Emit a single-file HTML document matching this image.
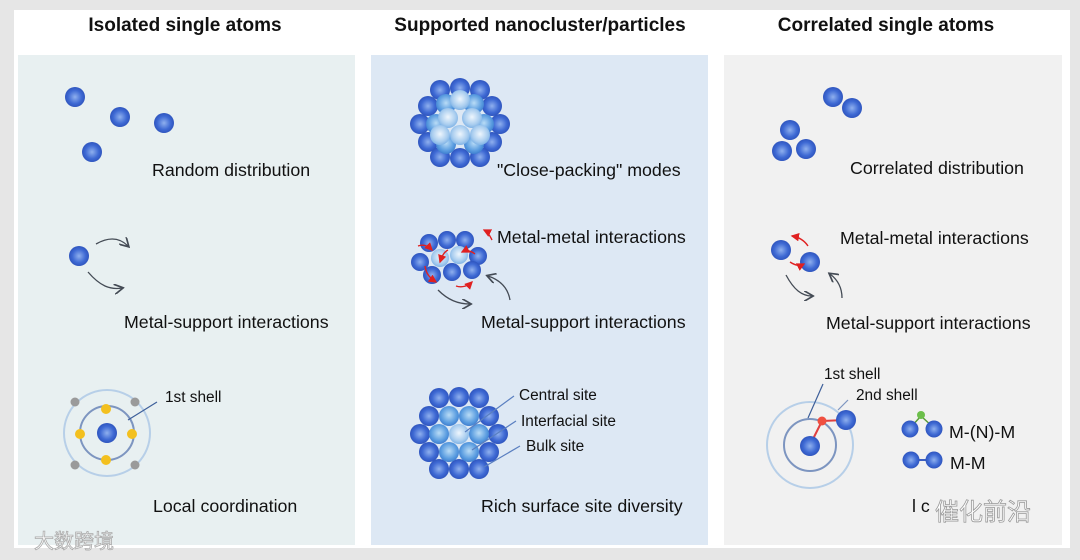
<!DOCTYPE html>
<html><head><meta charset="utf-8"><style>
html,body{margin:0;padding:0;background:#fff}
svg{display:block}
text{font-family:"Liberation Sans",sans-serif;fill:#111}
.t{font-weight:bold;font-size:19px}
.l{font-size:17.8px}
.s{font-size:15.4px}
</style></head><body>
<svg width="1080" height="560" viewBox="0 0 1080 560" xmlns="http://www.w3.org/2000/svg">
<defs>
<radialGradient id="b" cx="50%" cy="50%" r="55%"><stop offset="0" stop-color="#8fb0ee"/><stop offset="0.6" stop-color="#3f6ad4"/><stop offset="1" stop-color="#2a4fb8"/></radialGradient>
<radialGradient id="m" cx="50%" cy="45%" r="55%"><stop offset="0" stop-color="#b9dcf6"/><stop offset="0.7" stop-color="#5b9de0"/><stop offset="1" stop-color="#3f7fd0"/></radialGradient>
<radialGradient id="w" cx="50%" cy="45%" r="55%"><stop offset="0" stop-color="#eef6fd"/><stop offset="0.7" stop-color="#a9cdef"/><stop offset="1" stop-color="#80b3e6"/></radialGradient>
<marker id="ga" markerWidth="8" markerHeight="8" refX="6" refY="4" orient="auto"><path d="M0,0 L7,4 L0,8" fill="none" stroke="#444b55" stroke-width="1.3"/></marker>
<marker id="ra" markerWidth="6" markerHeight="6" refX="5" refY="3" orient="auto"><path d="M0,0 L6,3 L0,6 z" fill="#e02020"/></marker>
</defs>
<rect x="0" y="0" width="1080" height="560" fill="#e6e6e6"/>
<rect x="14" y="10" width="1056" height="538" fill="#fff"/>
<rect x="18" y="55" width="337" height="490" fill="#e8f0f1"/>
<rect x="371" y="55" width="337" height="490" fill="#dde8f4"/>
<rect x="724" y="55" width="338" height="490" fill="#f1f1f1"/>
<text class="t" x="185" y="31" text-anchor="middle">Isolated single atoms</text>
<text class="t" x="540" y="31" text-anchor="middle">Supported nanocluster/particles</text>
<text class="t" x="886" y="31" text-anchor="middle">Correlated single atoms</text>

<!-- left -->
<g fill="url(#b)"><circle cx="75" cy="97" r="10"/><circle cx="120" cy="117" r="10"/><circle cx="164" cy="123" r="10"/><circle cx="92" cy="152" r="10"/></g>
<text class="l" x="152" y="176">Random distribution</text>
<circle cx="79" cy="256" r="10" fill="url(#b)"/>
<path d="M96,244 C110,236 120,238 128,246" fill="none" stroke="#444b55" stroke-width="1.3" marker-end="url(#ga)"/>
<path d="M88,272 C100,286 110,290 122,288" fill="none" stroke="#444b55" stroke-width="1.3" marker-end="url(#ga)"/>
<text class="l" x="124" y="328">Metal-support interactions</text>
<circle cx="107" cy="433" r="43" fill="none" stroke="#b7cfe8" stroke-width="2"/>
<circle cx="107" cy="433" r="27" fill="none" stroke="#7d95c0" stroke-width="2"/>
<line x1="128" y1="420" x2="157" y2="402" stroke="#3d5f9a" stroke-width="1.2"/>
<circle cx="107" cy="433" r="10" fill="url(#b)"/>
<g fill="#f3c01f"><circle cx="106" cy="409" r="5"/><circle cx="106" cy="460" r="5"/><circle cx="80" cy="434" r="5"/><circle cx="132" cy="434" r="5"/></g>
<g fill="#9a9a9a"><circle cx="75" cy="402" r="4.5"/><circle cx="135" cy="402" r="4.5"/><circle cx="75" cy="465" r="4.5"/><circle cx="135" cy="465" r="4.5"/></g>
<text class="s" x="165" y="402">1st shell</text>
<text class="l" x="153" y="512">Local coordination</text>

<!-- middle top cluster -->
<g fill="url(#b)">
<circle cx="440" cy="90" r="10"/><circle cx="460" cy="88" r="10"/><circle cx="480" cy="90" r="10"/>
<circle cx="428" cy="106" r="10"/><circle cx="492" cy="106" r="10"/>
<circle cx="420" cy="124" r="10"/><circle cx="500" cy="124" r="10"/>
<circle cx="428" cy="142" r="10"/><circle cx="492" cy="142" r="10"/>
<circle cx="440" cy="157" r="10"/><circle cx="460" cy="158" r="10"/><circle cx="480" cy="157" r="10"/>
</g>
<g fill="url(#m)">
<circle cx="446" cy="104" r="10"/><circle cx="474" cy="104" r="10"/>
<circle cx="436" cy="124" r="10"/><circle cx="484" cy="124" r="10"/>
<circle cx="446" cy="144" r="10"/><circle cx="474" cy="144" r="10"/>
</g>
<g fill="url(#w)">
<circle cx="460" cy="100" r="10"/><circle cx="448" cy="118" r="10"/><circle cx="472" cy="118" r="10"/>
<circle cx="440" cy="135" r="10"/><circle cx="460" cy="135" r="10"/><circle cx="480" cy="135" r="10"/>
</g>
<text class="l" x="497" y="176">"Close-packing" modes</text>

<!-- middle second cluster -->
<g fill="url(#b)">
<circle cx="429" cy="243" r="9"/><circle cx="447" cy="240" r="9"/><circle cx="465" cy="240" r="9"/>
<circle cx="420" cy="262" r="9"/><circle cx="478" cy="256" r="9"/>
<circle cx="432" cy="275" r="9"/><circle cx="452" cy="272" r="9"/><circle cx="472" cy="270" r="9"/>
</g>
<g fill="url(#w)"><circle cx="440" cy="258" r="9"/><circle cx="459" cy="255" r="9"/></g>
<g stroke="#e02020" stroke-width="1.4" fill="none" marker-end="url(#ra)">
<path d="M418,246 C424,244 428,246 432,250"/><path d="M448,250 C444,252 442,256 440,262"/>
<path d="M475,254 C470,250 466,250 462,252"/><path d="M425,266 C426,274 430,278 436,282"/>
<path d="M456,286 C462,288 468,286 472,282"/><path d="M492,240 C490,236 488,232 484,230"/>
</g>
<text class="l" x="497" y="243">Metal-metal interactions</text>
<path d="M438,290 C448,300 458,304 470,304" fill="none" stroke="#444b55" stroke-width="1.3" marker-end="url(#ga)"/>
<path d="M510,300 C508,288 500,280 488,276" fill="none" stroke="#444b55" stroke-width="1.3" marker-end="url(#ga)"/>
<text class="l" x="481" y="328">Metal-support interactions</text>

<!-- middle bottom cluster -->
<g fill="url(#b)">
<circle cx="439" cy="398" r="10"/><circle cx="459" cy="397" r="10"/><circle cx="479" cy="398" r="10"/>
<circle cx="429" cy="416" r="10"/><circle cx="489" cy="416" r="10"/>
<circle cx="420" cy="434" r="10"/><circle cx="498" cy="434" r="10"/>
<circle cx="429" cy="452" r="10"/><circle cx="489" cy="452" r="10"/>
<circle cx="439" cy="469" r="10"/><circle cx="459" cy="469" r="10"/><circle cx="479" cy="469" r="10"/>
</g>
<g fill="url(#m)">
<circle cx="449" cy="416" r="10"/><circle cx="469" cy="416" r="10"/>
<circle cx="439" cy="434" r="10"/><circle cx="479" cy="434" r="10"/>
<circle cx="449" cy="452" r="10"/><circle cx="469" cy="452" r="10"/>
</g>
<circle cx="459" cy="434" r="10" fill="url(#w)"/>
<g stroke="#5a7fc0" stroke-width="1.2"><line x1="465" y1="432" x2="514" y2="396"/><line x1="472" y1="450" x2="516" y2="421"/><line x1="484" y1="467" x2="520" y2="446"/></g>
<text class="s" x="519" y="400">Central site</text>
<text class="s" x="521" y="426">Interfacial site</text>
<text class="s" x="526" y="451">Bulk site</text>
<text class="l" x="481" y="512">Rich surface site diversity</text>

<!-- right -->
<g fill="url(#b)"><circle cx="833" cy="97" r="10"/><circle cx="852" cy="108" r="10"/><circle cx="790" cy="130" r="10"/><circle cx="782" cy="151" r="10"/><circle cx="806" cy="149" r="10"/></g>
<text class="l" x="850" y="174">Correlated distribution</text>
<circle cx="781" cy="250" r="10" fill="url(#b)"/><circle cx="810" cy="262" r="10" fill="url(#b)"/>
<path d="M808,246 C804,240 798,237 792,236" fill="none" stroke="#e02020" stroke-width="1.4" marker-end="url(#ra)"/>
<path d="M790,262 C796,266 800,266 804,264" fill="none" stroke="#e02020" stroke-width="1.4" marker-end="url(#ra)"/>
<text class="l" x="840" y="244">Metal-metal interactions</text>
<path d="M786,275 C794,290 802,296 812,296" fill="none" stroke="#444b55" stroke-width="1.3" marker-end="url(#ga)"/>
<path d="M842,298 C842,288 838,280 830,274" fill="none" stroke="#444b55" stroke-width="1.3" marker-end="url(#ga)"/>
<text class="l" x="826" y="329">Metal-support interactions</text>
<circle cx="810" cy="445" r="43" fill="none" stroke="#b7cfe8" stroke-width="2"/>
<circle cx="810" cy="445" r="26" fill="none" stroke="#7d95c0" stroke-width="2"/>
<line x1="808" y1="418" x2="823" y2="384" stroke="#3d5f9a" stroke-width="1.2"/>
<line x1="838" y1="410" x2="848" y2="400" stroke="#7d95c0" stroke-width="1.2"/>
<line x1="810" y1="445" x2="822" y2="421" stroke="#e04040" stroke-width="2"/>
<line x1="822" y1="421" x2="845" y2="420" stroke="#e04040" stroke-width="2"/>
<circle cx="810" cy="446" r="10" fill="url(#b)"/>
<circle cx="846" cy="420" r="10" fill="url(#b)"/>
<circle cx="822" cy="421" r="4.5" fill="#f05040"/>
<text class="s" x="824" y="379">1st shell</text>
<text class="s" x="856" y="400">2nd shell</text>
<line x1="910" y1="428" x2="921" y2="416" stroke="#5a9a3a" stroke-width="1.5"/><line x1="921" y1="416" x2="934" y2="428" stroke="#5a9a3a" stroke-width="1.5"/>
<circle cx="921" cy="415" r="4" fill="#6cbf4a"/>
<circle cx="910" cy="429" r="8.5" fill="url(#b)"/><circle cx="934" cy="429" r="8.5" fill="url(#b)"/>
<text class="l" x="949" y="438">M-(N)-M</text>
<line x1="911" y1="460" x2="934" y2="460" stroke="#3d5fc0" stroke-width="2"/>
<circle cx="911" cy="460" r="8.5" fill="url(#b)"/><circle cx="934" cy="460" r="8.5" fill="url(#b)"/>
<text class="l" x="950" y="469">M-M</text>
<text class="l" x="912" y="512" fill="#666">l c</text>
<text x="935" y="520" style="font-family:'Liberation Sans','Noto Sans CJK SC',sans-serif;font-size:24px;fill:#fff;stroke:#999;stroke-width:0.8">催化前沿</text>
<text x="34" y="548" style="font-family:'Liberation Sans','Noto Sans CJK SC',sans-serif;font-size:20px;fill:#fff;stroke:#aaa;stroke-width:0.8">大数跨境</text>
</svg>
</body></html>
